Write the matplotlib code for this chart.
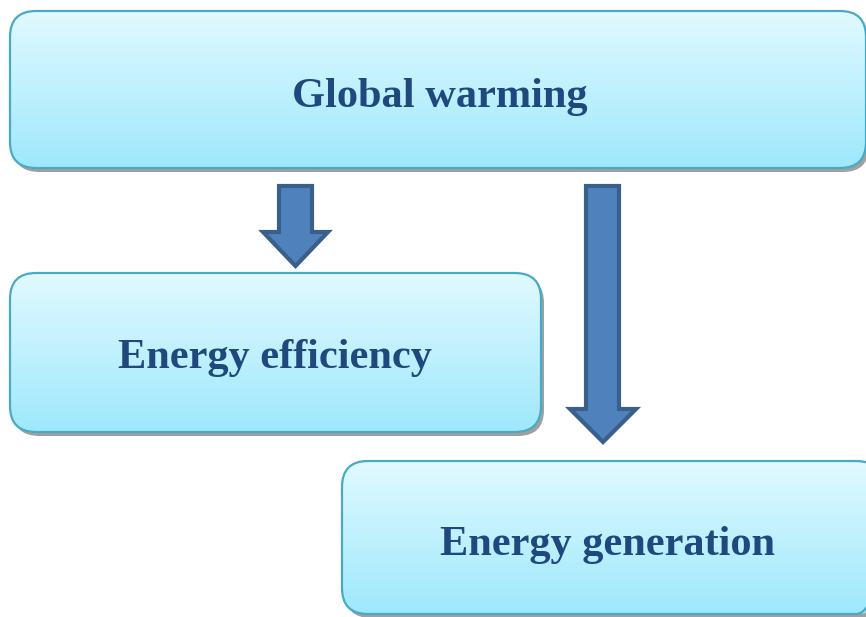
import numpy as np
import matplotlib.pyplot as plt
from matplotlib.patches import FancyBboxPatch, Polygon

# diagram content
labels = ["Global warming", "Energy efficiency", "Energy generation"]

# box geometry in pixels (x, y, w, h), y measured from top
boxes = [(10, 11, 856, 157), (10, 273, 531, 159), (342, 461, 540, 153)]
# arrows: (shaft left, shaft right, top, head start, head left, head right, tip)
arrows = [(279, 312, 186, 232, 263, 328, 266),
          (586, 619, 186, 409, 570, 636, 442)]
text_pos = [(440, 97), (275, 358), (608, 545)]

fig = plt.figure(figsize=(8.66, 6.17), dpi=100)
ax = fig.add_axes([0, 0, 1, 1])
ax.set_xlim(0, 866)
ax.set_ylim(617, 0)
ax.axis("off")

# vertical gradient image (top light -> bottom darker cyan)
top_c = np.array([0.88, 0.98, 1.0])
bot_c = np.array([0.62, 0.91, 0.99])
t = np.linspace(0, 1, 256)[:, None]
grad = (top_c * (1 - t) + bot_c * t)[:, None, :]

for (x, y, w, h), label in zip(boxes, labels):
    r = 26
    shadow = FancyBboxPatch((x + r + 3, y + r + 4), w - 2 * r, h - 2 * r,
                            boxstyle=f"round,pad={r}", fc="#a0a0a0", ec="none",
                            zorder=1)
    ax.add_patch(shadow)
    box = FancyBboxPatch((x + r, y + r), w - 2 * r, h - 2 * r,
                         boxstyle=f"round,pad={r}", fc="none", ec="#4aaac6",
                         lw=1.6, zorder=3)
    ax.add_patch(box)
    im = ax.imshow(np.repeat(grad, 2, axis=1), extent=(x, x + w, y + h, y),
                   aspect="auto", zorder=2, interpolation="bilinear")
    im.set_clip_path(box)

for (tx, ty), label in zip(text_pos, labels):
    ax.text(tx, ty, label, ha="center", va="center", fontsize=30.5,
            fontweight="bold", family="Liberation Serif", color="#1f497d",
            zorder=5)

for sl, sr, top, hs, hl, hr, tip in arrows:
    pts = [(sl, top), (sr, top), (sr, hs), (hr, hs), ((hl + hr) / 2, tip),
           (hl, hs), (sl, hs)]
    ax.add_patch(Polygon(pts, closed=True, fc="#4f81bd", ec="#3a5f8b",
                         lw=3, joinstyle="miter", zorder=4))

fig.savefig("out.png", dpi=100)
